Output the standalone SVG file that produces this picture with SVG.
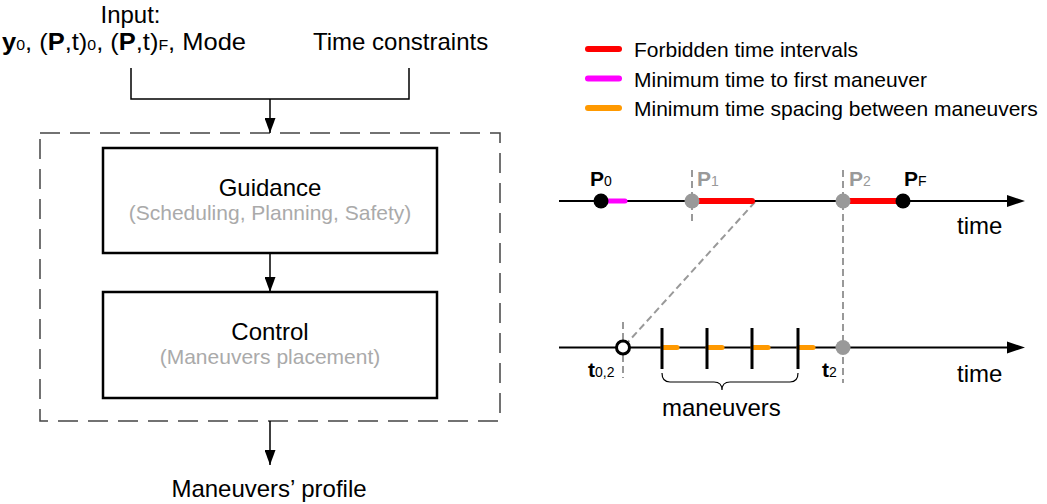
<svg xmlns="http://www.w3.org/2000/svg" width="1047" height="504" viewBox="0 0 1047 504">
<style>
text{font-family:"Liberation Sans",Arial,Helvetica,sans-serif;font-size:24px;fill:#000}
.b{font-weight:bold}
.mid{text-anchor:middle}
.sub{font-size:15px;font-weight:normal}
.lbl{font-size:21px}
.lsub{font-size:14px;font-weight:normal}
.gray{fill:#999}
.lgray{fill:#aaa;font-size:21px}
.leg{font-size:21px}
.box{fill:#fff;stroke:#000;stroke-width:2.5}
.conn{fill:none;stroke:#000;stroke-width:1.5}
.gd{fill:none;stroke:#999;stroke-width:2;stroke-dasharray:7 4}
.axis{fill:none;stroke:#000;stroke-width:2}
.seg{fill:none;stroke-linecap:round}
.tick{stroke:#000;stroke-width:3}
</style>
<defs>
<marker id="ah" markerWidth="15" markerHeight="11" refX="15" refY="5.5" orient="auto" markerUnits="userSpaceOnUse">
<path d="M0,0 L15,5.5 L0,11 Z" fill="#000"/>
</marker>
</defs>

<g id="input">
<text class="mid" x="130.5" y="23">Input:</text>
<text x="2" y="50" textLength="244" lengthAdjust="spacingAndGlyphs"><tspan class="b">y</tspan><tspan class="sub">0</tspan><tspan>, (</tspan><tspan class="b">P</tspan><tspan>,t)</tspan><tspan class="sub">0</tspan><tspan>, (</tspan><tspan class="b">P</tspan><tspan>,t)</tspan><tspan class="sub">F</tspan><tspan>, Mode</tspan></text>
</g>

<g id="time-constraints">
<text x="313" y="50">Time constraints</text>
</g>

<g id="system-box">
<rect x="40" y="133" width="460" height="288" fill="none" stroke="#444" stroke-width="1.5" stroke-dasharray="20 10"/>
</g>

<g id="guidance">
<rect class="box" x="103" y="148" width="334" height="105"/>
<text class="mid" x="270" y="196">Guidance</text>
<text class="mid lgray" x="270" y="220">(Scheduling, Planning, Safety)</text>
</g>

<g id="control">
<rect class="box" x="103" y="292" width="334" height="106"/>
<text class="mid" x="270" y="340">Control</text>
<text class="mid lgray" x="270" y="364">(Maneuvers placement)</text>
</g>

<g id="output">
<text class="mid" x="269" y="497">Maneuvers’ profile</text>
</g>

<g id="connectors">
<path class="conn" d="M131,68 V99 H409 V68"/>
<path class="conn" d="M270,99 V133" marker-end="url(#ah)"/>
<path class="conn" d="M270,253 V292" marker-end="url(#ah)"/>
<path class="conn" d="M270,421 V465" marker-end="url(#ah)"/>
</g>

<g id="legend">
<line class="seg" x1="588" y1="49" x2="619" y2="49" stroke="#f00" stroke-width="6"/>
<line class="seg" x1="588" y1="78.5" x2="619" y2="78.5" stroke="#f0f" stroke-width="6"/>
<line class="seg" x1="588" y1="108" x2="619" y2="108" stroke="#f90" stroke-width="6"/>
<text class="leg" x="634" y="57">Forbidden time intervals</text>
<text class="leg" x="634" y="86.5">Minimum time to first maneuver</text>
<text class="leg" x="634" y="116">Minimum time spacing between maneuvers</text>
</g>

<g id="projection-lines">
<line class="gd" x1="692" y1="170" x2="692" y2="223"/>
<line class="gd" x1="843" y1="170" x2="843" y2="383"/>
<line class="gd" x1="623" y1="322" x2="623" y2="378"/>
<line class="gd" x1="755" y1="202" x2="628" y2="342"/>
</g>

<g id="timeline-upper">
<line class="axis" x1="559" y1="201" x2="1010" y2="201"/>
<path d="M1007,195 L1025,201 L1007,207 Z" fill="#000"/>
<line class="seg" x1="601" y1="201" x2="625" y2="201" stroke="#f0f" stroke-width="5"/>
<line class="seg" x1="692" y1="201" x2="752" y2="201" stroke="#f00" stroke-width="6"/>
<line class="seg" x1="843" y1="201" x2="903" y2="201" stroke="#f00" stroke-width="6"/>
<circle cx="601" cy="201" r="7.5" fill="#000"/>
<circle cx="692" cy="201" r="7.5" fill="#999"/>
<circle cx="843" cy="201" r="7.5" fill="#999"/>
<circle cx="903" cy="201" r="7.5" fill="#000"/>
<text class="lbl b" x="590" y="186">P<tspan class="lsub">0</tspan></text>
<text class="lbl b gray" x="697" y="186">P<tspan class="lsub">1</tspan></text>
<text class="lbl b gray" x="849" y="186">P<tspan class="lsub">2</tspan></text>
<text class="lbl b" x="904" y="186">P<tspan class="lsub">F</tspan></text>
<text x="957" y="234">time</text>
</g>

<g id="timeline-lower">
<line class="axis" x1="559" y1="347.5" x2="1010" y2="347.5"/>
<path d="M1007,341.5 L1025,347.5 L1007,353.5 Z" fill="#000"/>
<line class="seg" x1="663" y1="347.5" x2="677" y2="347.5" stroke="#f90" stroke-width="5"/>
<line class="seg" x1="708" y1="347.5" x2="722" y2="347.5" stroke="#f90" stroke-width="5"/>
<line class="seg" x1="753" y1="347.5" x2="768" y2="347.5" stroke="#f90" stroke-width="5"/>
<line class="seg" x1="799" y1="347.5" x2="813" y2="347.5" stroke="#f90" stroke-width="5"/>
<line class="tick" x1="662" y1="328" x2="662" y2="369"/>
<line class="tick" x1="707" y1="328" x2="707" y2="369"/>
<line class="tick" x1="752" y1="328" x2="752" y2="369"/>
<line class="tick" x1="798" y1="328" x2="798" y2="369"/>
<circle cx="623" cy="347.5" r="6.5" fill="#fff" stroke="#000" stroke-width="3"/>
<circle cx="843" cy="347.5" r="7.5" fill="#999"/>
<text class="lbl b" x="588" y="377">t<tspan class="lsub">0,2</tspan></text>
<text class="lbl b" x="822" y="377">t<tspan class="lsub">2</tspan></text>
<text x="957" y="382">time</text>
<path d="M662,373 Q662,382 670,382 L714,382 Q722,382 722,390 Q722,382 730,382 L790,382 Q798,382 798,373" fill="none" stroke="#000" stroke-width="1.2"/>
<text x="662" y="416">maneuvers</text>
</g>
</svg>
